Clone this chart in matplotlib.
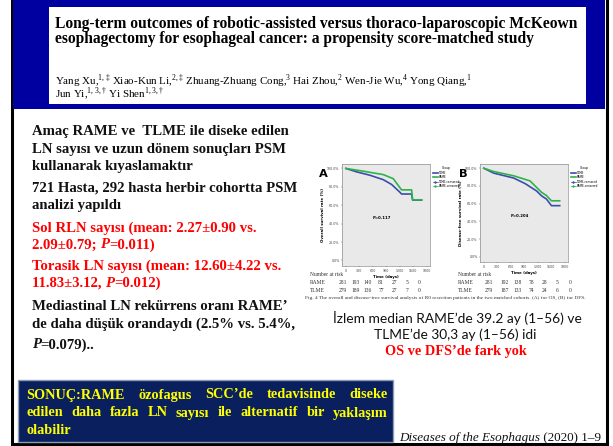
import matplotlib
matplotlib.use("Agg")
import matplotlib.pyplot as plt
from matplotlib.patches import Rectangle

W, H = 613, 446

# slide text
title_lines = ["Long-term outcomes of robotic-assisted versus thoraco-laparoscopic McKeown",
               "esophagectomy for esophageal cancer: a propensity score-matched study"]
left_lines = [
    ([("Amaç RAME ve  TLME ile diseke edilen", "normal")], "#111111"),
    ([("LN sayısı ve uzun dönem sonuçları PSM", "normal")], "#111111"),
    ([("kullanarak kıyaslamaktır", "normal")], "#111111"),
    ([("721 Hasta, 292 hasta herbir cohortta PSM", "normal")], "#111111"),
    ([("analizi yapıldı", "normal")], "#111111"),
    ([("Sol RLN sayısı (mean: 2.27±0.90 vs.", "normal")], "#ff0000"),
    ([("2.09±0.79; ", "normal"), ("P", "italic"), ("=0.011)", "normal")], "#ff0000"),
    ([("Torasik LN sayısı (mean: 12.60±4.22 vs.", "normal")], "#ff0000"),
    ([("11.83±3.12, ", "normal"), ("P", "italic"), ("=0.012)", "normal")], "#ff0000"),
    ([("Mediastinal LN rekürrens oranı RAME’", "normal")], "#111111"),
    ([("de daha düşük orandaydı (2.5% vs. 5.4%,", "normal")], "#111111"),
    ([("P", "italic"), ("=0.079)..", "normal")], "#111111"),
]
left_y = [131.7, 149.3, 166.7, 188.3, 206, 228.3, 245, 266.7, 283.3, 306.7, 324, 345]
conclusion = ["SONUÇ:RAME özofagus SCC’de tedavisinde diseke",
              "edilen daha fazla LN sayısı ile alternatif bir yaklaşım",
              "olabilir"]

# Kaplan-Meier curves (days, % surviving)
os_rame_t = [0, 387, 833, 1056, 1168, 1242, 1465, 1488, 1688]
os_rame_s = [100, 97.0, 93.3, 88.9, 81.5, 76.7, 76.7, 65.9, 65.9]
os_tlme_t = [0, 238, 536, 833, 1019, 1205, 1242, 1465, 1488, 1688]
os_tlme_s = [100, 96.3, 92.6, 87.8, 82.6, 74.1, 72.2, 72.2, 65.6, 65.6]
dfs_rame_t = [0, 220, 661, 1029, 1176, 1286, 1396, 1506, 1690]
dfs_rame_s = [100, 96.3, 91.5, 85.7, 78.3, 72.8, 69.1, 63.2, 63.2]
dfs_tlme_t = [0, 220, 661, 918, 1176, 1286, 1396, 1506, 1690]
dfs_tlme_s = [100, 94.5, 89.0, 82.7, 74.3, 68.8, 65.1, 57.7, 57.7]

risk_times = ["0", "300", "600", "900", "1200", "1500", "1800"]
os_rame_risk = [281, 193, 140, 81, 27, 5, 0]
os_tlme_risk = [279, 189, 136, 77, 27, 7, 0]
dfs_rame_risk = [281, 192, 138, 78, 28, 5, 0]
dfs_tlme_risk = [279, 187, 133, 74, 24, 6, 0]

blue = "#3a4dab"
green = "#2fb24a"
serif = "Liberation Serif"


def fx(x):
    return x / W


def fy(y):
    return 1 - y / H


def rect(x0, y0, x1, y1, **kw):
    fig.add_artist(Rectangle((fx(x0), fy(y1)), fx(x1) - fx(x0), fy(y0) - fy(y1),
                             transform=fig.transFigure, zorder=-5, **kw))


def width_px(s, **kw):
    t = fig.text(0, 0, s, **kw)
    w = t.get_window_extent(renderer).width
    t.remove()
    return w


def segments(x, y, parts, color, size, weight="bold"):
    # draw a line made of pieces with different styles, left to right
    for s, style in parts:
        kw = dict(fontsize=size, family=serif, weight=weight, style=style, color=color)
        fig.text(fx(x), fy(y), s, va="center", ha="left", **kw)
        x += width_px("x" + s + "x", **kw) - 2 * width_px("x", **kw)


plt.rcParams["mathtext.fontset"] = "custom"
plt.rcParams["mathtext.rm"] = serif
fig = plt.figure(figsize=(W / 100, H / 100), dpi=100)
renderer = fig.canvas.get_renderer()

# frame and header
rect(12, -2, 607, 444, facecolor="white", edgecolor="black", linewidth=2.2)
rect(13, 0, 605, 109, facecolor="#0000a0", edgecolor="none")
rect(49, 7, 586, 104, facecolor="white", edgecolor="none")
for i, line in enumerate(title_lines):
    fig.text(fx(55), fy(23.5 + 15.5 * i), line, fontsize=11.2, family=serif,
             weight="bold", va="center", ha="left")
fig.text(fx(55), fy(81.5), "Yang Xu,$^{1,\u2021}$ Xiao-Kun Li,$^{2,\u2021}$ Zhuang-Zhuang Cong,$^{3}$ "
         "Hai Zhou,$^{2}$ Wen-Jie Wu,$^{4}$ Yong Qiang,$^{1}$", fontsize=7.9, family=serif,
         va="center", ha="left")
fig.text(fx(55), fy(94), "Jun Yi,$^{1,3,\u2020}$ Yi Shen$^{1,3,\u2020}$", fontsize=7.9,
         family=serif, va="center", ha="left")

# left column text
for (parts, col), yy in zip(left_lines, left_y):
    segments(31.7, yy, parts, col, 10.6)

# conclusion box with justified text
rect(18, 379.5, 392.5, 441.5, facecolor="#0a1f5e", edgecolor="#8a9bb5", linewidth=1)
ckw = dict(fontsize=10.3, family=serif, weight="bold", color="#ffff00")
for i, line in enumerate(conclusion):
    yy = fy(395 + 18 * i)
    words = line.split()
    if i == len(conclusion) - 1:
        fig.text(fx(26), yy, line, va="center", ha="left", **ckw)
        continue
    ws = [width_px(w, **ckw) for w in words]
    gap = (388 - 26 - sum(ws)) / (len(words) - 1)
    xx = 26
    for w, wd in zip(words, ws):
        fig.text(fx(xx), yy, w, va="center", ha="left", **ckw)
        xx += wd + gap

# citation
ckw2 = dict(fontsize=9.45, family=serif, color="#111111")
reg = " (2020) 1–9"
fig.text(fx(601.5), fy(438), reg, va="center", ha="right", **ckw2)
rw = width_px(reg, **ckw2)
fig.text(fx(601.5) - rw / W, fy(438), "Diseases of the Esophagus", va="center",
         ha="right", style="italic", **ckw2)


def km_panel(box, tr, sr, tt, st, ylab, ptxt, letter, lx, ly):
    x0, y0, x1, y1 = box
    ax = fig.add_axes([fx(x0), fy(y1), fx(x1) - fx(x0), fy(y0) - fy(y1)])
    ax.set_facecolor("#e9e9e9")
    ax.plot(tt, st, color=blue, lw=1.2, label="TLME")
    ax.plot(tr, sr, color=green, lw=1.2, label="RAME")
    ax.plot([], [], color=blue, lw=0.5, marker="+", ms=1.5, label="TLME-censored")
    ax.plot([], [], color=green, lw=0.5, marker="+", ms=1.5, label="RAME-censored")
    ax.set_xlim(-85, 1875)
    ax.set_ylim(-6, 104.8)
    ax.set_xticks([int(t) for t in risk_times])
    ax.set_yticks([0, 20, 40, 60, 80, 100])
    ax.set_yticklabels(["%.1f%%" % v for v in [0, 20, 40, 60, 80, 100]])
    ax.tick_params(labelsize=2.3, length=1, width=0.3, pad=0.8, colors="#444444")
    for sp in ax.spines.values():
        sp.set_linewidth(0.4)
        sp.set_color("#777777")
    ax.set_xlabel("Time (days)", fontsize=2.8, labelpad=1.5, weight="bold")
    ax.set_ylabel(ylab, fontsize=2.8, labelpad=1.5, weight="bold")
    ax.text(0.45, 0.47, ptxt, transform=ax.transAxes, fontsize=2.8, weight="bold",
            ha="center", va="center")
    ax.legend(loc="upper left", bbox_to_anchor=(1.01, 1.0), fontsize=2.0,
              title="Group", title_fontsize=2.2, frameon=False, handlelength=1.8,
              handletextpad=0.4, labelspacing=0.2, borderpad=0.2)
    fig.text(fx(lx), fy(ly), letter, fontsize=8.2, weight="bold", ha="center", va="center")
    return ax


km_panel((342, 164, 430, 266), os_rame_t, os_rame_s, os_tlme_t, os_tlme_s,
         "Overall survival rate (%)", "P=0.117", "A", 323.5, 174)
km_panel((480, 164, 568, 262), dfs_rame_t, dfs_rame_s, dfs_tlme_t, dfs_tlme_s,
         "Disease-free survival rate (%)", "P=0.204", "B", 463.5, 174)

# numbers at risk
rkw = dict(fontsize=4, family=serif, color="#333333", va="center")
for x_lab, cols, rr, tt in [(310, [343.3, 355.7, 367.7, 381, 394.3, 406.7, 419],
                             os_rame_risk, os_tlme_risk),
                            (458.3, [489, 505, 517.7, 531.7, 545, 557.3, 570],
                             dfs_rame_risk, dfs_tlme_risk)]:
    fig.text(fx(x_lab), fy(274), "Number at risk", ha="left", **rkw)
    fig.text(fx(x_lab), fy(282.3), "RAME", ha="left", **rkw)
    fig.text(fx(x_lab), fy(290), "TLME", ha="left", **rkw)
    for cx, a, b in zip(cols, rr, tt):
        fig.text(fx(cx), fy(282.3), str(a), ha="center", **rkw)
        fig.text(fx(cx), fy(290), str(b), ha="center", **rkw)
fig.text(fx(305), fy(298.3), "Fig. 4 The overall and disease-free survival analysis of R0 resection "
         "patients in the two matched cohorts. (A) for OS, (B) for DFS.", fontsize=3.9,
         family=serif, color="#333333", va="center", ha="left")

# follow-up note
skw = dict(fontsize=9.9, family="Lato", color="#111111", ha="center", va="center")
fig.text(fx(457), fy(318.3), "İzlem median RAME’de 39.2 ay (1–56) ve", **skw)
fig.text(fx(455), fy(334.3), "TLME’de 30,3 ay (1–56) idi", **skw)
fig.text(fx(456), fy(351.7), "OS ve DFS’de fark yok", fontsize=10.3, family=serif,
         weight="bold", color="#ff0000", ha="center", va="center")

fig.savefig("out.png", dpi=100)
